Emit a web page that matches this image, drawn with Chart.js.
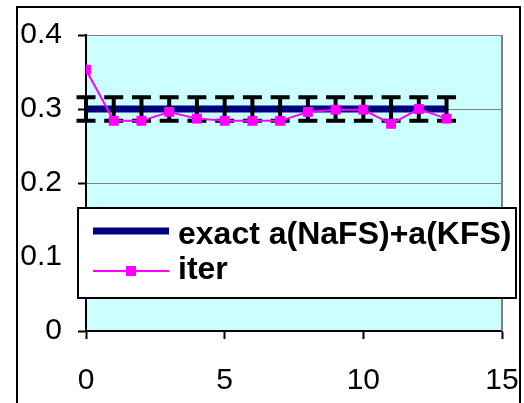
<!DOCTYPE html>
<html><head><meta charset="utf-8">
<script src="https://cdn.jsdelivr.net/npm/chart.js@4/dist/chart.umd.min.js"></script>
<style>html,body{margin:0;padding:0;background:#fff}#wrap{width:524px;height:403px}</style>
</head><body><div id="wrap"><canvas id="c" width="524" height="403"></canvas></div>
<script>
const iterX = [0,1,2,3,4,5,6,7,8,9,10,11,12,13];
const iterY = [0.353,0.284,0.284,0.296,0.287,0.284,0.284,0.284,0.296,0.299,0.299,0.280,0.300,0.287];
const exactY = [0.3,0.3,0.3,0.3,0.3,0.3,0.3,0.3,0.3,0.3,0.3,0.3,0.3,0.3];
const exactErr = [0.016,0.016,0.016,0.016,0.016,0.016,0.016,0.016,0.016,0.016,0.016,0.016,0.016,0.016];
const seriesNames = ['exact a(NaFS)+a(KFS)','iter'];
const xTicks = [0,5,10,15];
const yTicks = [0,0.1,0.2,0.3,0.4];

const FONT = "'Liberation Sans', Arial, sans-serif";

const deco = {
  id:'deco',
  beforeDraw(chart){
    const {ctx, chartArea:a} = chart;
    ctx.save();
    ctx.fillStyle = '#CCFFFF';
    ctx.fillRect(a.left, a.top, a.right-a.left, a.bottom-a.top);
    ctx.restore();
  },
  beforeDatasetsDraw(chart){
    const {ctx, chartArea:a} = chart;
    ctx.save();
    ctx.strokeStyle = '#808080';
    ctx.lineWidth = 2;
    ctx.beginPath();
    ctx.moveTo(a.right, a.top); ctx.lineTo(a.right, a.bottom);
    ctx.stroke();
    ctx.restore();
  },
  afterDatasetDraw(chart, args){
    if (args.index !== 0) return;
    const {ctx, scales:{x,y}} = chart;
    ctx.save();
    ctx.strokeStyle = '#000';
    ctx.lineWidth = 4;
    for (let i=0;i<iterX.length;i++){
      const px = x.getPixelForValue(iterX[i]);
      const y1 = y.getPixelForValue(exactY[i]+exactErr[i]);
      const y2 = y.getPixelForValue(exactY[i]-exactErr[i]);
      ctx.beginPath();
      ctx.moveTo(px, y1); ctx.lineTo(px, y2);
      ctx.moveTo(px-9.5, y1); ctx.lineTo(px+9.5, y1);
      ctx.moveTo(px-9.5, y2); ctx.lineTo(px+9.5, y2);
      ctx.stroke();
    }
    ctx.restore();
  },
  afterDraw(chart){
    const {ctx} = chart;
    ctx.save();
    ctx.strokeStyle = '#000';
    ctx.lineWidth = 2;
    ctx.strokeRect(17, 7, 503, 400);
    const L = 78, T = 208, W = 438, H = 90;
    ctx.fillStyle = '#fff';
    ctx.fillRect(L, T, W, H);
    ctx.lineWidth = 2;
    ctx.strokeRect(L, T, W, H);
    const ds = chart.data.datasets;
    ctx.strokeStyle = ds[0].borderColor;
    ctx.lineWidth = 7;
    ctx.beginPath(); ctx.moveTo(93, 231); ctx.lineTo(169, 231); ctx.stroke();
    ctx.strokeStyle = ds[1].borderColor;
    ctx.lineWidth = 2;
    ctx.beginPath(); ctx.moveTo(93, 271); ctx.lineTo(169, 271); ctx.stroke();
    ctx.fillStyle = ds[1].pointBackgroundColor;
    ctx.fillRect(126, 266, 10, 10);
    ctx.fillStyle = '#000';
    ctx.font = "bold 32px " + FONT;
    ctx.textBaseline = 'alphabetic';
    ctx.fillText(ds[0].label, 178, 244);
    ctx.fillText(ds[1].label, 178, 279);
    ctx.restore();
  }
};

new Chart(document.getElementById('c'), {
  type:'line',
  data:{
    datasets:[
      {label:seriesNames[0], data:iterX.map((v,i)=>({x:v,y:exactY[i]})), borderColor:'#000080', backgroundColor:'#000080', borderWidth:7, pointRadius:0, order:2, tension:0},
      {label:seriesNames[1], data:iterX.map((v,i)=>({x:v,y:iterY[i]})), borderColor:'#FF00FF', backgroundColor:'#FF00FF', pointBackgroundColor:'#FF00FF', pointBorderColor:'#FF00FF', borderWidth:2, pointStyle:'rect', pointRadius:7, pointBorderWidth:0, order:1, tension:0}
    ]
  },
  options:{
    responsive:false, animation:false,
    layout:{padding:{left:16, top:35, right:22, bottom:0}},
    plugins:{legend:{display:false}, tooltip:{enabled:false}},
    scales:{
      x:{type:'linear', min:0, max:15,
        afterBuildTicks(s){ s.ticks = xTicks.map(v=>({value:v})); },
        afterFit(s){ s.height = 72; s.paddingLeft = 0; s.paddingRight = 0; },
        ticks:{font:{family:FONT, size:30}, color:'#000', padding:24, maxRotation:0, autoSkip:false},
        grid:{drawOnChartArea:false, tickLength:8, tickColor:'#000', tickWidth:2},
        border:{display:true, color:'#000', width:2}
      },
      y:{type:'linear', min:0, max:0.4,
        afterBuildTicks(s){ s.ticks = yTicks.map(v=>({value:v})); },
        afterFit(s){ s.width = 70; s.paddingTop = 0; s.paddingBottom = 0; },
        ticks:{font:{family:FONT, size:30}, color:'#000', padding:16, callback:v=>String(+v.toFixed(1))},
        grid:{color:'#808080', lineWidth:1, tickLength:8, tickColor:'#000', tickWidth:2},
        border:{display:true, color:'#000', width:2}
      }
    }
  },
  plugins:[deco]
});
</script></body></html>
